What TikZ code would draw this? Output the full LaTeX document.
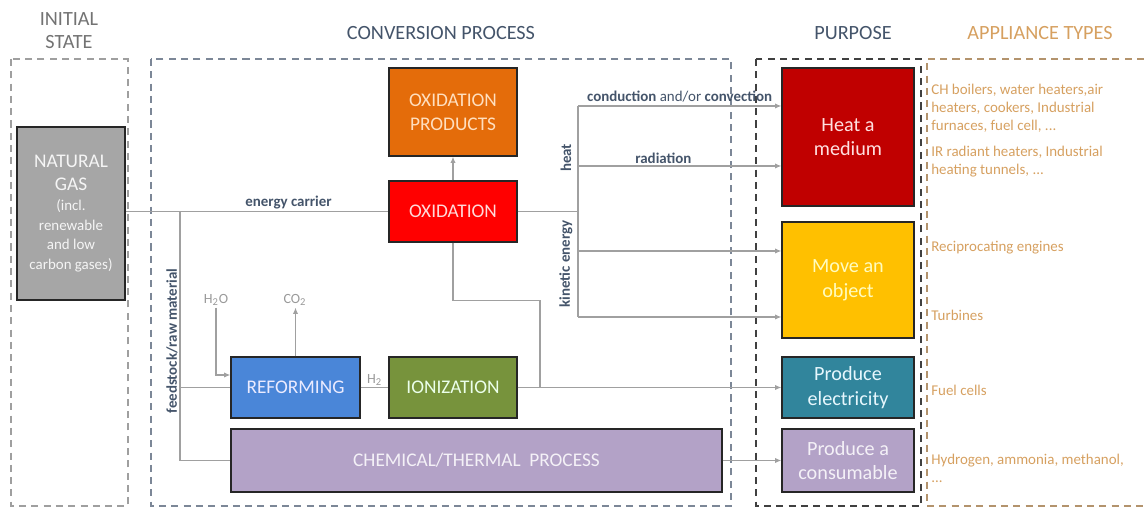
\documentclass[tikz,border=0pt]{standalone}
\usepackage{fontspec}
\setmainfont{Carlito}
\usetikzlibrary{arrows.meta,positioning,calc}
\definecolor{gasGray}{RGB}{166,166,166}
\definecolor{oxOrange}{RGB}{228,108,10}
\definecolor{oxRed}{RGB}{255,0,0}
\definecolor{refBlue}{RGB}{74,134,216}
\definecolor{ionGreen}{RGB}{119,147,60}
\definecolor{chemPurple}{RGB}{179,162,199}
\definecolor{heatRed}{RGB}{192,0,0}
\definecolor{moveYellow}{RGB}{255,192,0}
\definecolor{elecTeal}{RGB}{49,133,156}
\definecolor{headBlue}{RGB}{68,84,106}
\definecolor{applTan}{RGB}{214,160,96}
\definecolor{flowGray}{RGB}{160,160,160}
\colorlet{boxline}{black!85}
\newcommand{\gassmall}[1]{{\fontsize{8.5}{10}\selectfont #1}}

\begin{document}
\begin{tikzpicture}[x=0.02cm,y=-0.02cm,>={Latex[length=3.5pt,width=3pt]},
  box/.style={draw=boxline,line width=0.8pt,align=center,inner sep=2pt,font=\fontsize{11}{13.5}\selectfont},
  flow/.style={draw=flowGray,line width=0.6pt},
  lbl/.style={font=\fontsize{8.5}{10}\selectfont\bfseries,text=headBlue,inner sep=1pt},
  chem/.style={font=\fontsize{8}{10}\selectfont,text=gray!80,inner sep=1pt},
  head/.style={font=\fontsize{11.5}{13}\selectfont,text=headBlue,align=center},
  appl/.style={font=\fontsize{8.5}{10.3}\selectfont,text=applTan,align=left,inner sep=0pt},
  panel/.style={dashed,dash pattern=on 4pt off 3pt,line width=1.1pt}]
\useasboundingbox (0,0) rectangle (1144,509);
% columns
\draw[panel,draw=gray!75] (11,59) rectangle (128,506);
\draw[panel,draw=headBlue!70] (151,59) rectangle (731,506);
\draw[panel,draw=black!75] (756,59) rectangle (921,506);
\draw[panel,draw=applTan!60!gray] (1144,59) -- (927,59) -- (927,506) -- (1144,506);
\node[head,text=gray!90!black] (hinit) at (69,31) {INITIAL\\STATE};
\node[head] (hconv) at (441,33) {CONVERSION PROCESS};
\node[head] (hpurp) at (853,33) {PURPOSE};
\node[head,text=applTan] (happl) at (1040,33) {APPLIANCE TYPES};
% boxes
\node[box,fill=gasGray,text=white!92!gray,minimum width=2.16cm,minimum height=3.46cm] (gas) at (71,213.5) {NATURAL\\GAS\\[-2.5pt]\gassmall{(incl.}\\[-2.2pt]\gassmall{renewable}\\[-2.2pt]\gassmall{and low}\\[-2.2pt]\gassmall{carbon gases)}};
\node[box,fill=oxOrange,text=orange!25,minimum width=2.56cm,minimum height=1.76cm] (oxprod) at (453,112) {OXIDATION\\PRODUCTS};
\node[box,fill=oxRed,text=red!15,minimum width=2.56cm,minimum height=1.22cm] (oxid) at (453,211.5) {OXIDATION};
\node[box,fill=refBlue,text=blue!8,minimum width=2.58cm,minimum height=1.22cm] (reform) at (295.5,387.5) {REFORMING};
\node[box,fill=ionGreen,text=green!8,minimum width=2.56cm,minimum height=1.22cm] (ioniz) at (453,387.5) {IONIZATION};
\node[box,fill=chemPurple,text=white!85!chemPurple,minimum width=9.82cm,minimum height=1.26cm] (chem) at (476.5,460.5) {CHEMICAL/THERMAL\ \ PROCESS};
\node[box,fill=heatRed,text=red!12,font=\fontsize{11.5}{14}\selectfont,minimum width=2.64cm,minimum height=2.76cm] (heat) at (848,137) {Heat a\\medium};
\node[box,fill=moveYellow,text=yellow!25,font=\fontsize{11.5}{14}\selectfont,minimum width=2.64cm,minimum height=2.32cm] (move) at (848,280) {Move an\\object};
\node[box,fill=elecTeal,text=cyan!10,font=\fontsize{11.5}{14}\selectfont,minimum width=2.64cm,minimum height=1.22cm] (elec) at (848,387.5) {Produce\\electricity};
\node[box,fill=chemPurple,text=white!85!chemPurple,font=\fontsize{11.5}{14}\selectfont,minimum width=2.64cm,minimum height=1.26cm] (cons) at (848,460.5) {Produce a\\consumable};
% energy carrier and feedstock
\coordinate (feed) at (180,211.5);
\draw[flow] (gas.east |- oxid.west) -- node[lbl,above,pos=0.62] (lcarrier) {energy carrier} (oxid.west);
\draw[flow] (feed) |- (chem.west);
\draw[flow] (feed |- reform.west) -- (reform.west);
\node[lbl,rotate=90] (lfeed) at (172,341) {feedstock/raw material};
% reforming
\node[chem] (h2o) at (216,300) {H\textsubscript{2}O};
\node[chem] (co2) at (295,300) {CO\textsubscript{2}};
\draw[flow,->] (h2o.south) |- ($(reform.west)+(0,-12.5)$);
\draw[flow,->] (reform.north) -- (reform.north |- co2.south);
\draw[flow] (reform.east) -- node[chem,above] (lh2) {H\textsubscript{2}} (ioniz.west);
% oxidation
\draw[flow,->] (oxid.north) -- (oxprod.south);
\coordinate (ejoin) at (540,387.5);
\draw[flow] (oxid.south) -- ++(0,58) -| (ejoin);
\draw[flow,->] (ioniz.east) -- (elec.west);
\coordinate (hsplit) at (578,211.5);
\coordinate (htop) at (578,106);
\coordinate (hrad) at (578,166);
\coordinate (kin) at (578,251);
\coordinate (kbot) at (578,317);
\draw[flow] (oxid.east) -- (hsplit);
\draw[flow] (htop) -- (kbot);
\draw[flow,->] (htop) -- node[lbl,above=1pt] (lconv) {conduction {\mdseries and/or} convection} (htop -| heat.west);
\draw[flow,->] (hrad) -- node[lbl,above,pos=0.42] (lrad) {radiation} (hrad -| heat.west);
\draw[flow,->] (kin) -- (kin -| move.west);
\draw[flow,->] (kbot) -- (kbot -| move.west);
\node[lbl,rotate=90] (lheat) at (566,158) {heat};
\node[lbl,rotate=90] (lkin) at (566,264) {kinetic energy};
\draw[flow,->] (chem.east) -- (cons.west);
% appliance types
\node[appl,anchor=north west] (aheat) at (931,84) {CH boilers, water heaters,air\\heaters, cookers, Industrial\\furnaces, fuel cell, ...};
\node[appl,anchor=north west] (arad) at (931,146) {IR radiant heaters, Industrial\\heating tunnels, ...};
\node[appl,anchor=west] (arecip) at (931,248) {Reciprocating engines};
\node[appl,anchor=west] (aturb) at (931,315) {Turbines};
\node[appl,anchor=west] (afuel) at (931,390) {Fuel cells};
\node[appl,anchor=north west] (ahyd) at (931,454) {Hydrogen, ammonia, methanol,\\...};
\end{tikzpicture}
\end{document}
